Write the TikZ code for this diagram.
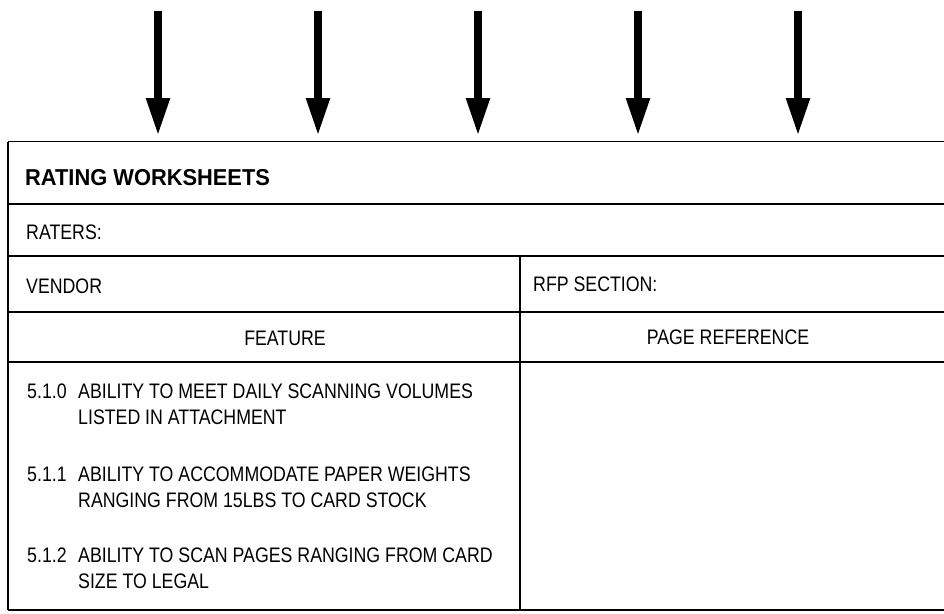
\documentclass[tikz,border=0pt]{standalone}
\usepackage{fontspec}
\setmainfont{Liberation Sans}[FakeStretch=0.845]
\newfontfamily\headfont{Liberation Sans}[FakeStretch=0.95]
\usetikzlibrary{arrows.meta, positioning, calc}

\begin{document}
\begin{tikzpicture}[
    x=1pt, y=-1pt,
    rule/.style={line width=1.2pt},
    cell/.style={anchor=base west, inner sep=0pt, font=\fontsize{21}{26}\selectfont},
    colhead/.style={anchor=base, inner sep=0pt, font=\fontsize{21}{26}\selectfont},
    item/.style={cell, align=left},
    flow/.style={line width=8pt, -{Triangle[length=38pt, width=22pt]}, shorten >=5.5pt},
    >=Stealth]
  \useasboundingbox (0,0) rectangle (944,613);
  \coordinate (top) at (8,141.5);
  \coordinate (bot) at (8,610);
  \coordinate (mid) at (520,256);
  \draw[rule] (top) -- (top -| 944,0);
  \foreach \y in {204,256,312,362} \draw[rule] (8,\y) -- (944,\y);
  \draw[rule] (bot) -- (bot -| 944,0);
  \draw[rule] (top) -- (bot);
  \draw[rule] (mid) -- (mid |- bot);
  \foreach \x [count=\i] in {158,318,478,638,798} {
    \coordinate (src\i) at (\x,11);
    \draw[flow] (src\i) -- (src\i |- top);
  }
  \node[cell, font=\fontsize{23}{26}\headfont\bfseries] (title) at (25,185) {RATING WORKSHEETS};
  \node[cell] (raters) at (26,239) {RATERS:};
  \node[cell] (vendor) at (26,293) {VENDOR};
  \node[cell] (rfp) at (533,291.5) {RFP SECTION:};
  \node[colhead] (feature) at (285,345.5) {FEATURE};
  \node[colhead] (pageref) at (728,344.5) {PAGE REFERENCE};
  \node[cell] (n510) at (27,398.5) {5.1.0};
  \node[item] (f510) at (78,424.5) {ABILITY TO MEET DAILY SCANNING VOLUMES\\LISTED IN ATTACHMENT};
  \node[cell] (n511) at (27,481.5) {5.1.1};
  \node[item] (f511) at (78,507.5) {ABILITY TO ACCOMMODATE PAPER WEIGHTS\\RANGING FROM 15LBS TO CARD STOCK};
  \node[cell] (n512) at (27,562.5) {5.1.2};
  \node[item] (f512) at (78,588.5) {ABILITY TO SCAN PAGES RANGING FROM CARD\\SIZE TO LEGAL};
\end{tikzpicture}
\end{document}
